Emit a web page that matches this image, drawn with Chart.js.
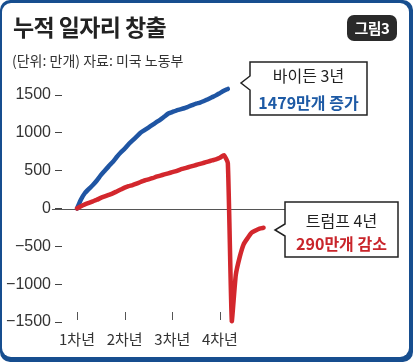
<!DOCTYPE html>
<html><head><meta charset="utf-8">
<script src="https://cdn.jsdelivr.net/npm/chart.js@4"></script>
<style>
html,body{margin:0;padding:0;background:#fff;}
#wrap{position:relative;width:413px;height:362px;overflow:hidden;font-family:"Noto Sans CJK KR","Noto Sans",sans-serif;}
#frame{position:absolute;left:0;top:0;width:413px;height:362px;background:#174e8f;border-radius:10px;}
#panel{position:absolute;left:2px;top:3px;width:407px;height:354px;background:#fff;border-radius:9px;}
#chart{position:absolute;left:0;top:0;}
.t{position:absolute;white-space:nowrap;}
#title{left:13px;top:15px;font-size:23px;line-height:23px;font-weight:700;color:#222;letter-spacing:-0.6px;}
#sub{left:12px;top:53px;font-size:14px;line-height:14px;color:#333;}
#badge{left:347px;top:15px;width:50px;height:26px;background:#2a2a2a;border-radius:7px;color:#fff;font-size:15px;font-weight:700;line-height:26px;text-align:center;letter-spacing:-0.5px;}
svg{position:absolute;left:0;top:0;}
.c{position:absolute;text-align:center;font-size:16px;line-height:16px;white-space:nowrap;}
</style></head>
<body>
<div id="wrap">
  <div id="frame"></div>
  <div id="panel"></div>
  <canvas id="chart" width="413" height="362"></canvas>
  <div class="t" id="title">누적 일자리 창출</div>
  <div class="t" id="sub">(단위: 만개) 자료: 미국 노동부</div>
  <div class="t" id="badge">그림3</div>
  <svg width="413" height="362">
    <path d="M250,62 H367 V115 H250 V90 L241,83 L250,76 Z" fill="#fff" stroke="#222" stroke-width="1.5"/>
    <path d="M285,202 H398 V257 H285 V236 L275,230 L285,224 Z" fill="#fff" stroke="#222" stroke-width="1.5"/>
  </svg>
  <div class="c" style="left:250px;width:117px;top:67px;color:#222;">바이든 3년</div>
  <div class="c" style="left:250px;width:117px;top:94px;color:#1d5aa5;font-weight:700;">1479만개 증가</div>
  <div class="c" style="left:285px;width:113px;top:212px;color:#222;">트럼프 4년</div>
  <div class="c" style="left:285px;width:113px;top:235px;color:#c9252b;font-weight:700;">290만개 감소</div>
</div>
<script>
// Cumulative jobs created (unit: 10,000), monthly from start of term
const bidenJobs = [0,120,205,260,310,370,440,500,560,614,680,740,790,850,900,950,1000,1035,1070,1105,1140,1175,1215,1255,1275,1295,1310,1325,1345,1365,1385,1400,1420,1445,1470,1495,1525,1555,1580];
const trumpJobs = [0,30,55,75,95,115,140,160,180,200,225,250,275,295,310,330,350,370,385,400,420,435,450,465,480,495,515,530,545,560,575,590,605,620,635,650,670,705,600,-1490,-880,-640,-470,-390,-320,-290,-265,-255];
const yTickValues = [-1500,-1000,-500,0,500,1000,1500];
const xTickMonths = [0,12,24,36];
const xTickLabels = ['1차년','2차년','3차년','4차년'];

const toXY = arr => arr.map((v,i)=>({x:i,y:v}));

const guides = {
  id:'guides',
  beforeDatasetsDraw(chart){
    const {ctx, scales:{x,y}} = chart;
    ctx.save();
    ctx.strokeStyle = '#555';
    ctx.lineWidth = 1;
    const y0 = Math.round(y.getPixelForValue(0))+0.5;
    ctx.beginPath(); ctx.moveTo(52,y0); ctx.lineTo(286,y0); ctx.stroke();
    xTickMonths.forEach(m=>{
      const px = Math.round(x.getPixelForValue(m))+0.5;
      ctx.beginPath(); ctx.moveTo(px, y.bottom-10); ctx.lineTo(px, y.bottom-2); ctx.stroke();
    });
    ctx.restore();
  }
};

new Chart(document.getElementById('chart'), {
  type:'line',
  data:{datasets:[
    {data:toXY(trumpJobs), borderColor:'#d3272d', borderWidth:4.5, pointRadius:0, clip:false, borderCapStyle:'round', borderJoinStyle:'round', tension:0.15},
    {data:toXY(bidenJobs), borderColor:'#1f55a3', borderWidth:4.5, pointRadius:0, clip:false, borderCapStyle:'round', borderJoinStyle:'round', tension:0.15}
  ]},
  options:{
    responsive:false, animation:false, devicePixelRatio:1,
    layout:{padding:{left:0,top:95,right:128,bottom:0}},
    plugins:{legend:{display:false}, tooltip:{enabled:false}},
    scales:{
      x:{type:'linear', min:-3.78, max:52.4,
        afterBuildTicks:s=>{s.ticks = xTickMonths.map(v=>({value:v}));},
        afterFit:s=>{s.height=40;},
        ticks:{callback:(v,i)=>xTickLabels[i], autoSkip:false, maxRotation:0, padding:0, color:'#333', font:{size:15,family:'"Noto Sans CJK KR", sans-serif'}},
        grid:{display:false}, border:{display:false}},
      y:{min:-1500, max:1500,
        afterBuildTicks:s=>{s.ticks = yTickValues.map(v=>({value:v}));},
        afterFit:s=>{s.width=62;},
        ticks:{callback:v=> v<0 ? '\u2212'+Math.abs(v) : String(v), padding:4, color:'#333', font:{size:16,family:'"Liberation Sans Narrow", "Liberation Sans", sans-serif'}},
        grid:{drawOnChartArea:false, drawTicks:true, tickLength:7, color:'#444'}, border:{display:false}}
    }
  },
  plugins:[guides]
});
</script>
</body></html>
